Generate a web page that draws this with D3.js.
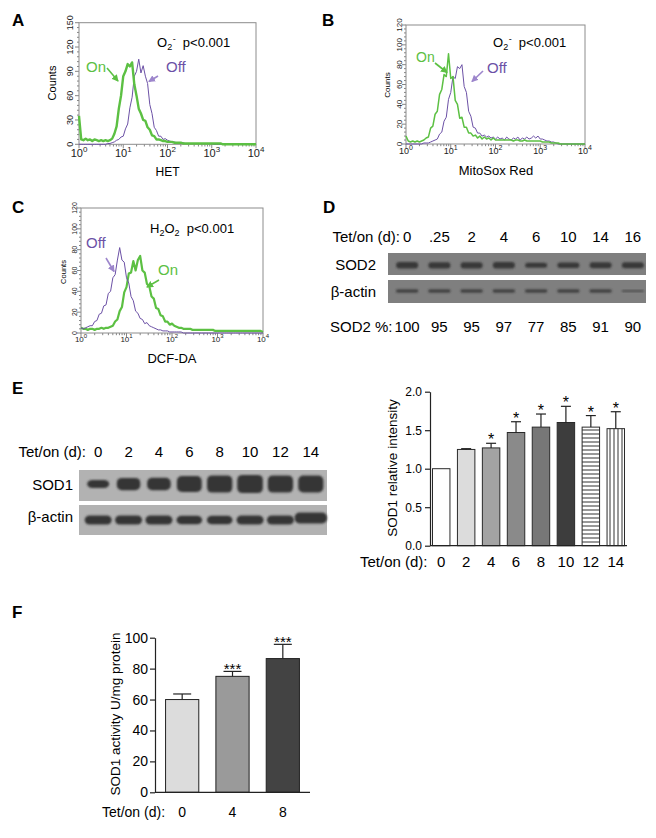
<!DOCTYPE html>
<html><head><meta charset="utf-8">
<script src="https://cdn.jsdelivr.net/npm/d3@7"></script>
<style>
body{margin:0;background:#fff;}
svg{display:block;font-family:"Liberation Sans",Arial,sans-serif;}
</style></head><body>
<svg id="fig" width="656" height="838"></svg>
<script>
// ---------- DATA ----------
// flow cytometry histograms: counts at log10 channel positions 0,0.05,...,4
const histLog = d3.range(0, 81).map(i => i * 0.05);
const aOn = [35,6,5,7,5,6,4,6,5,4, 5,4,5,4,5,7,13,22,44,60, 84,90,99,96,101,74,60,44,38,30, 29,21,18,11,10,6,6,5,4,4, 3,3,3,2,2,2,2,1,1,1, 1,1,1,1,1,1,1,1,1,1, 1,1,1,1,1,0,0,0,0,0, 0,0,0,0,0,0,0,0,0,0, 0];
const aOff = [0,0,0,0,0,0,0,0,0,0, 0,0,0,1,1,2,3,5,6,9, 10,19,25,45,58,84,90,105,88,97, 84,75,49,38,21,17,10,10,6,7, 5,4,3,3,2,2,2,2,1,1, 1,1,1,1,1,1,1,1,1,1, 1,0,0,0,0,0,0,0,0,0, 0,0,0,0,0,0,0,0,0,0, 0];
const bOn = [8,3,2,3,2,3,2,3,4,6, 7,16,18,30,33,50,55,70,68,91, 66,68,44,40,26,27,17,17,11,11, 8,9,6,8,5,7,5,6,4,6, 4,4,4,4,4,4,4,4,3,4, 4,3,3,4,3,3,3,3,3,3, 3,2,2,2,2,1,1,1,1,0, 0,0,0,0,0,0,0,0,0,0, 0];
const bOff = [0,0,0,0,0,0,0,0,1,1, 1,2,3,4,5,10,12,23,27,45, 52,68,66,78,76,80,58,52,33,28, 17,16,11,11,8,9,7,8,6,7, 5,7,5,6,4,7,5,4,6,5, 7,4,6,5,7,5,6,8,6,8, 5,5,4,3,3,2,2,1,0,0, 0,0,0,0,0,0,0,0,0,0, 0];
const cOn = [5,4,4,3,4,4,3,4,4,5, 4,5,5,6,7,11,13,21,25,39, 44,57,58,69,60,70,74,60,58,47, 45,35,33,24,23,17,16,11,11,8, 9,7,6,5,5,4,4,4,4,3, 3,3,3,3,3,3,3,3,3,2, 2,2,2,2,2,2,2,2,2,2, 2,2,2,2,2,2,2,2,2,2, 1];
const cOff = [5,4,5,6,7,7,11,12,18,19, 26,27,38,40,53,56,70,82,70,68, 53,48,35,31,21,19,14,13,9,10, 7,6,5,4,3,3,2,2,2,1, 1,1,1,1,1,0,0,0,0,0, 0,0,0,0,0,0,0,0,0,0, 0,0,0,0,0,0,0,0,0,0, 0,0,0,0,0,0,0,0,0,0, 0];
const histDecades = [0, 1, 2, 3, 4];

// panel D western blot
const dLanes = ["0", ".25", "2", "4", "6", "10", "14", "16"];
const dSod2Pct = [100, 95, 95, 97, 77, 85, 91, 90];
const dActin = [1, 1, 1, 1, 1, 1, 1, 0.6];

// panel E
const eLanes = ["0", "2", "4", "6", "8", "10", "12", "14"];
const eSod1 = [1.00, 1.25, 1.27, 1.47, 1.54, 1.60, 1.54, 1.52];
const eSod1Err = [0, 0.01, 0.06, 0.14, 0.17, 0.21, 0.15, 0.22];
const eSig = ["", "", "*", "*", "*", "*", "*", "*"];
const eActin = [1, 1, 1, 0.95, 0.95, 1, 1, 1.2];
const eTicks = [0, 0.5, 1.0, 1.5, 2.0];

// panel F
const fLanes = ["0", "4", "8"];
const fAct = [60, 75, 86.5];
const fErr = [3.6, 3.2, 9.2];
const fSig = ["", "***", "***"];
const fTicks = [0, 20, 40, 60, 80, 100];

// ---------- STYLE ----------
const GREEN = "#5cc043", PURPLE = "#6c51a6", LAV = "#9d86cc";
const eFills = ["#ffffff", "#dcdcdc", "#a3a3a3", "#8a8a8a", "#777777", "#3d3d3d", "url(#hstripe)", "url(#vstripe)"];
const fFills = ["#dcdcdc", "#9a9a9a", "#434343"];

const svg = d3.select("#fig");
svg.append("rect").attr("width", 656).attr("height", 838).attr("fill", "#fff");
const defs = svg.append("defs");
defs.append("filter").attr("id", "blur").attr("x", "-30%").attr("y", "-60%").attr("width", "160%").attr("height", "220%")
  .append("feGaussianBlur").attr("stdDeviation", 0.9);
defs.append("filter").attr("id", "blur2").attr("x", "-30%").attr("y", "-60%").attr("width", "160%").attr("height", "220%")
  .append("feGaussianBlur").attr("stdDeviation", 1.3);
const hp = defs.append("pattern").attr("id", "hstripe").attr("patternUnits", "userSpaceOnUse").attr("width", 4).attr("height", 4);
hp.append("rect").attr("width", 4).attr("height", 4).attr("fill", "#fff");
hp.append("line").attr("x1", 0).attr("x2", 4).attr("y1", 2).attr("y2", 2).attr("stroke", "#333").attr("stroke-width", 1);
const vp = defs.append("pattern").attr("id", "vstripe").attr("patternUnits", "userSpaceOnUse").attr("width", 4).attr("height", 4);
vp.append("rect").attr("width", 4).attr("height", 4).attr("fill", "#fff");
vp.append("line").attr("y1", 0).attr("y2", 4).attr("x1", 2).attr("x2", 2).attr("stroke", "#333").attr("stroke-width", 1);
function marker(id, col) {
  defs.append("marker").attr("id", id).attr("markerUnits", "userSpaceOnUse").attr("markerWidth", 7).attr("markerHeight", 7)
    .attr("refX", 6).attr("refY", 3.5).attr("orient", "auto")
    .append("path").attr("d", "M0,0 L7,3.5 L0,7 z").attr("fill", col);
}
marker("arrG", GREEN); marker("arrP", LAV);

function letter(t, x, y) {
  svg.append("text").attr("x", x).attr("y", y).attr("font-size", 17).attr("font-weight", "bold").attr("fill", "#000").text(t);
}
function arrow(x1, y1, x2, y2, col, m) {
  svg.append("line").attr("x1", x1).attr("y1", y1).attr("x2", x2).attr("y2", y2)
    .attr("stroke", col).attr("stroke-width", 1.6).attr("marker-end", `url(#${m})`);
}
function txt(t, x, y, size, opts = {}) {
  return svg.append("text").attr("x", x).attr("y", y).attr("font-size", size)
    .attr("text-anchor", opts.anchor || "start").attr("fill", opts.fill || "#000").text(t);
}

// ---------- HISTOGRAMS ----------
function hist(c) {
  const g = svg.append("g");
  const x = d3.scaleLinear().domain([0, 4]).range([c.l, c.r]);
  const y = d3.scaleLinear().domain([0, c.ymax]).range([c.b, c.t]);
  const yMinor = d3.range(0, c.ymax + 1e-6, c.ystep / 5);
  g.selectAll(null).data(yMinor).join("line")
    .attr("x1", c.l).attr("x2", d => c.l - (Math.abs(d / c.ystep - Math.round(d / c.ystep)) < 1e-6 ? 4 : 2))
    .attr("y1", d => y(d)).attr("y2", d => y(d)).attr("stroke", "#666").attr("stroke-width", 0.8);
  const yMajor = d3.range(0, c.ymax + 1e-6, c.ystep);
  g.selectAll(null).data(yMajor).join("text")
    .attr("transform", d => `translate(${c.yLabX},${y(d)}) rotate(-90)`)
    .attr("text-anchor", "middle").attr("font-size", c.tickFont).attr("fill", "#222").text(d => d);
  const xMinor = [];
  histDecades.slice(0, 4).forEach(dec => { for (let k = 2; k <= 9; k++) xMinor.push(dec + Math.log10(k)); });
  g.selectAll(null).data(xMinor).join("line")
    .attr("x1", d => x(d)).attr("x2", d => x(d)).attr("y1", c.b).attr("y2", c.b + 2.2)
    .attr("stroke", "#666").attr("stroke-width", 0.8);
  g.selectAll(null).data(histDecades).join("line")
    .attr("x1", d => x(d)).attr("x2", d => x(d)).attr("y1", c.b).attr("y2", c.b + 4)
    .attr("stroke", "#666").attr("stroke-width", 0.8);
  const xl = g.selectAll(null).data(histDecades).join("text")
    .attr("x", d => x(d)).attr("y", c.xLabY).attr("text-anchor", "middle").attr("font-size", c.xFont).attr("fill", "#222");
  xl.append("tspan").text("10");
  xl.append("tspan").attr("dy", -c.xFont * 0.42).attr("font-size", c.xSup).text(d => d);
  g.append("rect").attr("x", c.l).attr("y", c.t).attr("width", c.r - c.l).attr("height", c.b - c.t)
    .attr("fill", "none").attr("stroke", "#8c8c8c").attr("stroke-width", 1);
  const line = d3.line().x((d, i) => x(histLog[i])).y(d => y(d));
  const order = c.offTop ? [["on", GREEN, c.onW, c.on], ["off", PURPLE, 1, c.off]]
                         : [["off", PURPLE, 1, c.off], ["on", GREEN, c.onW, c.on]];
  order.forEach(([k, col, w, data]) => {
    g.append("path").datum(data).attr("d", line).attr("fill", "none").attr("stroke", col)
      .attr("stroke-width", w).attr("stroke-linejoin", "round");
  });
  g.append("text").attr("transform", `translate(${c.countsX},${c.countsY}) rotate(-90)`)
    .attr("text-anchor", "middle").attr("font-size", c.countsFont).text("Counts");
  g.append("text").attr("x", c.titleX).attr("y", c.titleY).attr("text-anchor", "middle")
    .attr("font-size", c.titleFont).text(c.title);
}

hist({l: 79, r: 256, t: 22.7, b: 144.3, ymax: 150, ystep: 30, on: aOn, off: aOff, onW: 2.4,
  tickFont: 9, xFont: 11, xSup: 8, xLabY: 156.7, yLabX: 73, countsX: 56, countsY: 83, countsFont: 11,
  title: "HET", titleX: 167.5, titleY: 176, titleFont: 12});
hist({l: 406, r: 585, t: 25, b: 144, ymax: 120, ystep: 20, on: bOn, off: bOff, onW: 1.5,
  tickFont: 8, xFont: 9, xSup: 7, xLabY: 154, yLabX: 402, countsX: 390, countsY: 85, countsFont: 8,
  title: "MitoSox Red", titleX: 496, titleY: 175, titleFont: 13});
hist({l: 81, r: 263, t: 208, b: 333, ymax: 120, ystep: 20, on: cOn, off: cOff, onW: 2.2, offTop: true,
  tickFont: 7, xFont: 8, xSup: 6, xLabY: 341.7, yLabX: 77, countsX: 65.5, countsY: 272, countsFont: 7.5,
  title: "DCF-DA", titleX: 172, titleY: 363, titleFont: 13});

// annotations A
letter("A", 12, 26);
function o2(x, y) {
  const t = svg.append("text").attr("x", x).attr("y", y).attr("font-size", 13);
  t.append("tspan").text("O");
  t.append("tspan").attr("font-size", 9).attr("dy", 3).text("2");
  t.append("tspan").attr("font-size", 9).attr("dy", -8).attr("dx", 0.5).text("-");
  t.append("tspan").attr("dy", 5).text("\u00a0 p<0.001");
}
o2(157, 47);
txt("On", 86, 72, 15, {fill: GREEN});
txt("Off", 166, 72, 15, {fill: PURPLE});
arrow(107, 68, 118, 81, GREEN, "arrG");
arrow(158, 76, 149, 81.5, LAV, "arrP");

// B
letter("B", 322, 26);
o2(493, 47);
txt("On", 416, 62, 14, {fill: GREEN});
txt("Off", 487, 73, 15, {fill: PURPLE});
arrow(435, 63, 447, 72.5, GREEN, "arrG");
arrow(483, 71, 472, 81.5, LAV, "arrP");

// C
letter("C", 12, 213);
{
  const t = svg.append("text").attr("x", 150).attr("y", 233).attr("font-size", 13);
  t.append("tspan").text("H");
  t.append("tspan").attr("font-size", 9).attr("dy", 3).text("2");
  t.append("tspan").attr("dy", -3).text("O");
  t.append("tspan").attr("font-size", 9).attr("dy", 3).text("2");
  t.append("tspan").attr("dy", -3).text("\u00a0 p<0.001");
}
txt("Off", 86, 248, 15, {fill: PURPLE});
txt("On", 158, 275, 15, {fill: GREEN});
arrow(106, 258, 114, 271.5, LAV, "arrP");
arrow(159, 280, 147, 287, GREEN, "arrG");

// ---------- PANEL D ----------
letter("D", 323, 213);
const dx = d3.scaleBand().domain(dLanes).range([391, 649]);
const dc = l => dx(l) + dx.bandwidth() / 2;
txt("Tet/on (d):", 400, 242, 15, {anchor: "end"});
svg.selectAll(null).data(dLanes).join("text").attr("x", dc).attr("y", 242)
  .attr("text-anchor", "middle").attr("font-size", 15).text(d => d);
svg.append("rect").attr("x", 388).attr("y", 253).attr("width", 258).attr("height", 22).attr("fill", "#7f7f7f");
svg.append("rect").attr("x", 388).attr("y", 280).attr("width", 258).attr("height", 23).attr("fill", "#7f7f7f");
svg.selectAll(null).data(dLanes).join("rect")
  .attr("x", d => dc(d) - 11).attr("width", 22)
  .attr("y", (d, i) => 265.3 - 3.3 * dSod2Pct[i] / 100).attr("height", (d, i) => 6.6 * dSod2Pct[i] / 100)
  .attr("rx", 3).attr("fill", "#383838").attr("filter", "url(#blur)");
svg.selectAll(null).data(dLanes).join("rect")
  .attr("x", d => dc(d) - 11).attr("width", 22)
  .attr("y", (d, i) => 291 - 1.4 * dActin[i]).attr("height", (d, i) => 2.8 * dActin[i])
  .attr("rx", 1).attr("fill", "#3a3a3a").attr("filter", "url(#blur)");
txt("SOD2", 376, 270, 15, {anchor: "end"});
txt("\u03b2-actin", 376, 297, 15, {anchor: "end"});
txt("SOD2 %:", 330, 332, 15);
svg.selectAll(null).data(dSod2Pct).join("text").attr("x", (d, i) => dc(dLanes[i])).attr("y", 332)
  .attr("text-anchor", "middle").attr("font-size", 15).text(d => d);

// ---------- PANEL E (blot) ----------
letter("E", 12, 394);
const ebx = d3.scaleBand().domain(eLanes).range([83, 326]);
const ebc = l => ebx(l) + ebx.bandwidth() / 2;
txt("Tet/on (d):", 86, 457, 15, {anchor: "end"});
svg.selectAll(null).data(eLanes).join("text").attr("x", ebc).attr("y", 457)
  .attr("text-anchor", "middle").attr("font-size", 15).text(d => d);
svg.append("rect").attr("x", 79).attr("y", 470).attr("width", 248).attr("height", 31).attr("fill", "#b2b2b2");
svg.append("rect").attr("x", 79).attr("y", 505).attr("width", 248).attr("height", 30).attr("fill", "#b2b2b2");
svg.selectAll(null).data(eLanes).join("rect")
  .attr("x", (d, i) => ebc(d) - (22 + (eSod1[i] - 1) * 6) / 2).attr("width", (d, i) => 22 + (eSod1[i] - 1) * 6)
  .attr("y", (d, i) => 484 - (8 + (eSod1[i] - 1) * 17) / 2).attr("height", (d, i) => 8 + (eSod1[i] - 1) * 17)
  .attr("rx", 5).attr("fill", "#363636").attr("filter", "url(#blur2)");
svg.selectAll(null).data(eLanes).join("rect")
  .attr("x", (d, i) => ebc(d) - 13.5 * eActin[i]).attr("width", (d, i) => 27 * eActin[i])
  .attr("y", (d, i) => 520 - 4.5 * eActin[i] - (eActin[i] > 1.1 ? 2 : 0)).attr("height", (d, i) => 9 * eActin[i])
  .attr("rx", 5).attr("fill", "#363636").attr("filter", "url(#blur2)");
txt("SOD1", 73, 490, 15, {anchor: "end"});
txt("\u03b2-actin", 73, 522, 15, {anchor: "end"});

// ---------- PANEL E (bars) ----------
{
  const g = svg.append("g");
  const x = d3.scaleBand().domain(eLanes).range([430, 627]).paddingInner(0.3).paddingOuter(0.1);
  const y = d3.scaleLinear().domain([0, 2]).range([545.7, 391.7]);
  g.selectAll(null).data(eSod1).join("rect")
    .attr("x", (d, i) => x(eLanes[i])).attr("width", x.bandwidth())
    .attr("y", d => y(d)).attr("height", d => y(0) - y(d))
    .attr("fill", (d, i) => eFills[i]).attr("stroke", "#2a2a2a").attr("stroke-width", 1);
  eSod1.forEach((v, i) => {
    const cx = x(eLanes[i]) + x.bandwidth() / 2;
    if (eSod1Err[i] > 0) {
      g.append("line").attr("x1", cx).attr("x2", cx).attr("y1", y(v)).attr("y2", y(v + eSod1Err[i])).attr("stroke", "#222").attr("stroke-width", 1.2);
      g.append("line").attr("x1", cx - 5).attr("x2", cx + 5).attr("y1", y(v + eSod1Err[i])).attr("y2", y(v + eSod1Err[i])).attr("stroke", "#222").attr("stroke-width", 1.2);
    }
    if (eSig[i]) g.append("text").attr("x", cx).attr("y", y(v + eSod1Err[i]) + 2).attr("text-anchor", "middle")
      .attr("font-size", 16).text(eSig[i]);
  });
  const ax = g.append("g").attr("transform", "translate(430,0)")
    .call(d3.axisLeft(y).tickValues(eTicks).tickFormat(d3.format(".1f")).tickSize(5).tickSizeOuter(0).tickPadding(3));
  ax.selectAll("text").attr("font-size", 12).attr("font-family", "Liberation Sans, Arial, sans-serif").attr("fill", "#000");
  ax.selectAll("line,path").attr("stroke", "#222").attr("stroke-width", 1.2);
  g.append("line").attr("x1", 430).attr("x2", 627).attr("y1", y(0)).attr("y2", y(0)).attr("stroke", "#222").attr("stroke-width", 1.2);
  g.append("text").attr("transform", "translate(396.5,468) rotate(-90)").attr("text-anchor", "middle")
    .attr("font-size", 13.5).text("SOD1 relative intensity");
  g.append("text").attr("x", 360).attr("y", 567).attr("font-size", 15).text("Tet/on (d):");
  g.selectAll(null).data(eLanes).join("text").attr("x", d => x(d) + x.bandwidth() / 2).attr("y", 567)
    .attr("text-anchor", "middle").attr("font-size", 15).text(d => d);
}

// ---------- PANEL F ----------
letter("F", 12, 618);
{
  const g = svg.append("g");
  const x = d3.scaleBand().domain(fLanes).range([155, 310]).paddingInner(0.34).paddingOuter(0.21);
  const y = d3.scaleLinear().domain([0, 100]).range([792.3, 637.7]);
  g.selectAll(null).data(fAct).join("rect")
    .attr("x", (d, i) => x(fLanes[i])).attr("width", x.bandwidth())
    .attr("y", d => y(d)).attr("height", d => y(0) - y(d))
    .attr("fill", (d, i) => fFills[i]).attr("stroke", "#222").attr("stroke-width", 1);
  fAct.forEach((v, i) => {
    const cx = x(fLanes[i]) + x.bandwidth() / 2;
    g.append("line").attr("x1", cx).attr("x2", cx).attr("y1", y(v)).attr("y2", y(v + fErr[i])).attr("stroke", "#222").attr("stroke-width", 1.2);
    g.append("line").attr("x1", cx - 9).attr("x2", cx + 9).attr("y1", y(v + fErr[i])).attr("y2", y(v + fErr[i])).attr("stroke", "#222").attr("stroke-width", 1.2);
    if (fSig[i]) g.append("text").attr("x", cx).attr("y", y(v + fErr[i]) + 3).attr("text-anchor", "middle")
      .attr("font-size", 15).text(fSig[i]);
  });
  const ax = g.append("g").attr("transform", "translate(155,0)")
    .call(d3.axisLeft(y).tickValues(fTicks).tickSize(5).tickSizeOuter(0).tickPadding(2));
  ax.selectAll("text").attr("font-size", 14).attr("font-family", "Liberation Sans, Arial, sans-serif").attr("fill", "#000");
  ax.selectAll("line,path").attr("stroke", "#222").attr("stroke-width", 1.2);
  g.append("line").attr("x1", 155).attr("x2", 310).attr("y1", y(0)).attr("y2", y(0)).attr("stroke", "#222").attr("stroke-width", 1.2);
  g.append("text").attr("transform", "translate(120,714) rotate(-90)").attr("text-anchor", "middle")
    .attr("font-size", 13.5).text("SOD1 activity U/mg protein");
  g.append("text").attr("x", 102).attr("y", 817).attr("font-size", 14).text("Tet/on (d):");
  g.selectAll(null).data(fLanes).join("text").attr("x", d => x(d) + x.bandwidth() / 2).attr("y", 817)
    .attr("text-anchor", "middle").attr("font-size", 14).text(d => d);
}
</script>
</body></html>
